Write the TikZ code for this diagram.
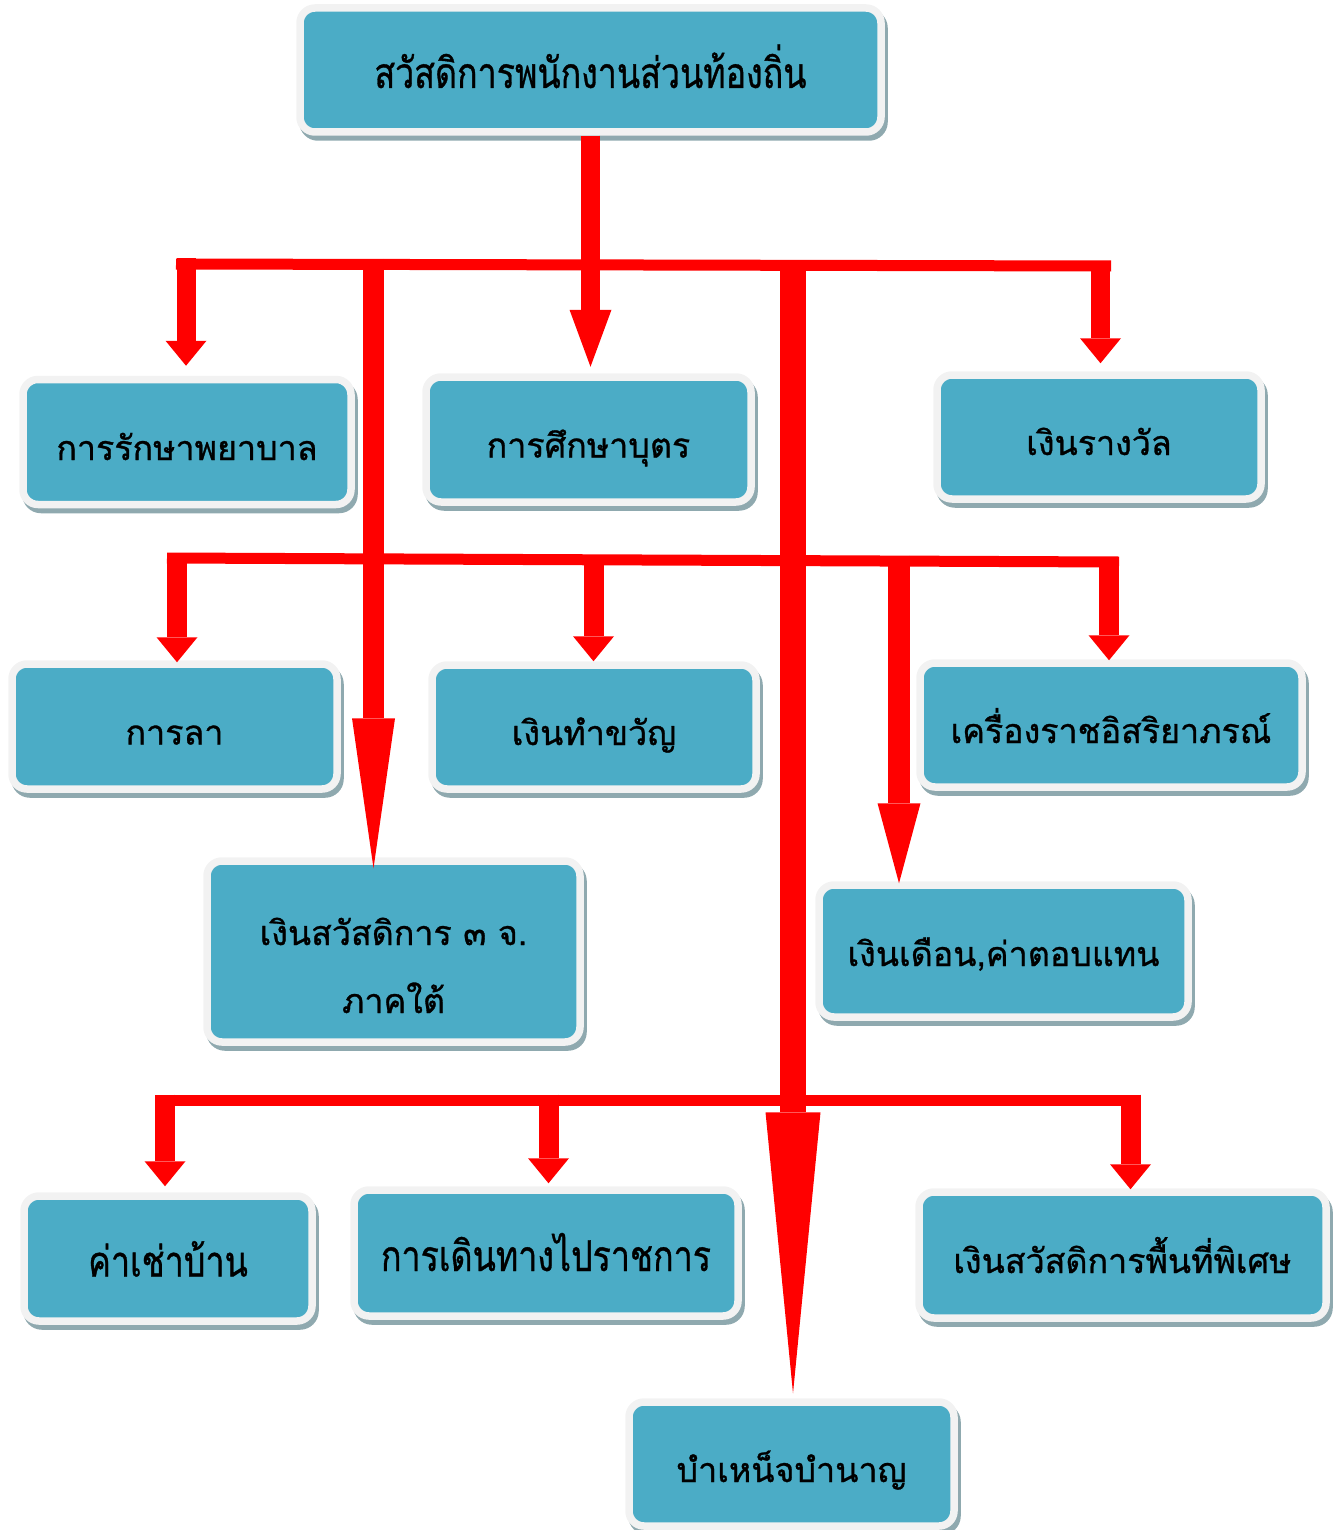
\documentclass[tikz,border=0pt]{standalone}
\usepackage{fontspec}
\usepackage{graphicx}
\newfontfamily\thaifont[Script=Thai,FakeBold=0.9]{Loma}
\usetikzlibrary{arrows.meta}
\definecolor{boxblue}{HTML}{4BACC6}
\definecolor{boxrim}{HTML}{F2F2F2}
\definecolor{boxshade}{HTML}{8FA9AF}
\definecolor{arrowred}{HTML}{FF0000}
\newcommand\tallthai[1]{\scalebox{1}[1.25]{#1}}
\tikzset{
  welfare/.style={rectangle,rounded corners=15pt,fill=boxblue,draw=boxrim,line width=7.5pt,
    inner sep=0pt,align=center,text=black,font=\thaifont\fontsize{34pt}{68pt}\selectfont,
    text height=36pt,text depth=0pt,
    preaction={draw=boxshade,fill=boxshade,transform canvas={shift={(3pt,-5pt)}}}},
  bar/.style={draw=arrowred,line width=11pt},
  pointer/.style={draw=arrowred,line width=20pt,-{Triangle[length=25pt,width=41pt,line width=0pt]}},
}
\begin{document}
\begin{tikzpicture}[x=1pt,y=-1pt]
\useasboundingbox (0,0) rectangle (1342,1530);

%Cajas
\node[welfare,minimum width=581pt,minimum height=124pt] (top) at (590.5,70) {\tallthai{สวัสดิการพนักงานส่วนท้องถิ่น}};
\node[welfare,minimum width=328pt,minimum height=125pt] (care) at (187,442) {การรักษาพยาบาล};
\node[welfare,minimum width=325pt,minimum height=125pt] (study) at (588.5,439.5) {การศึกษาบุตร};
\node[welfare,minimum width=324pt,minimum height=124pt] (award) at (1099,437) {เงินรางวัล};
\node[welfare,minimum width=325pt,minimum height=125pt] (leave) at (174.5,726.5) {การลา};
\node[welfare,minimum width=324pt,minimum height=124pt] (gift) at (594,727) {เงินทำขวัญ};
\node[welfare,minimum width=382pt,minimum height=124pt] (medal) at (1111,725) {เครื่องราชอิสริยาภรณ์};
\node[welfare,minimum width=373pt,minimum height=181pt,text height=123pt] (south) at (393.5,951.5) {เงินสวัสดิการ ๓ จ.\\ภาคใต้};
\node[welfare,minimum width=369pt,minimum height=132pt,text height=30pt] (salary) at (1003.5,951) {เงินเดือน,ค่าตอบแทน};
\node[welfare,minimum width=288pt,minimum height=125pt] (rent) at (168,1258.5) {\tallthai{ค่าเช่าบ้าน}};
\node[welfare,minimum width=384pt,minimum height=126pt] (travel) at (546,1253) {\tallthai{การเดินทางไปราชการ}};
\node[welfare,minimum width=407pt,minimum height=126pt] (special) at (1122.5,1255) {เงินสวัสดิการพื้นที่พิเศษ};
\node[welfare,minimum width=325pt,minimum height=124pt] (pension) at (791.5,1464) {บำเหน็จบำนาญ};

%Tronco
\draw[pointer,line width=19pt,-{Triangle[length=57pt,width=42pt,line width=0pt]},shorten >=6.5pt] (top.south) -- (top.south |- study.north);

%Barra 1
\coordinate (b1w) at (176,264);
\coordinate (b1e) at (1111,266);
\coordinate (s1) at (186,258.5);
\coordinate (s2) at (1100.5,260.5);
\coordinate (l1) at (373.5,259);
\coordinate (l2) at (793,262);
\draw[bar] (b1w) -- (b1e);
\foreach \s/\n/\g in {s1/care/10,s2/award/8}{
    \draw[pointer,line width=19pt,shorten >=\g pt] (\s) -- (\s |- \n.north);
}

%Flechas largas
\draw[pointer,line width=21pt,-{Triangle[length=150pt,width=43pt,line width=0pt]},shorten >=-11pt] (l1) -- (l1 |- south.north);
\draw[pointer,line width=26pt,-{Triangle[length=281pt,width=55pt,line width=0pt]},shorten >=5pt] (l2) -- (l2 |- pension.north);

%Barra 2
\coordinate (b2w) at (167,558);
\coordinate (b2e) at (1119,562);
\coordinate (s3) at (177,553);
\coordinate (s4) at (593.5,555);
\coordinate (s5) at (1109,557);
\coordinate (s6) at (899,555.5);
\draw[bar] (b2w) -- (b2e);
\foreach \s/\n/\g in {s3/leave/-2,s4/gift/0,s5/medal/-1}{
    \draw[pointer,shorten >=\g pt] (\s) -- (\s |- \n.north);
}
\draw[pointer,line width=22pt,-{Triangle[length=80pt,width=43pt,line width=0pt]},shorten >=-2pt] (s6) -- (s6 |- salary.north);

%Barra 3
\coordinate (b3w) at (155,1100);
\coordinate (b3e) at (1141,1100);
\coordinate (s7) at (165,1094.5);
\coordinate (s8) at (548.5,1094.5);
\coordinate (s9) at (1130.5,1094.5);
\draw[bar] (b3w) -- (b3e);
\foreach \s/\n/\g in {s7/rent/6,s8/travel/3,s9/special/-1}{
    \draw[pointer,shorten >=\g pt] (\s) -- (\s |- \n.north);
}
\end{tikzpicture}
\end{document}
